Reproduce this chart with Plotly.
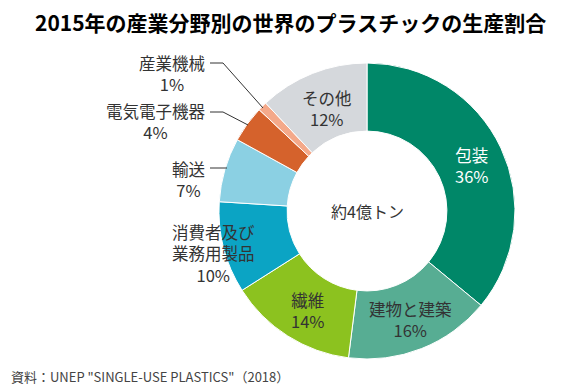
import math
import plotly.graph_objects as go

labels = ["包装", "建物と建築", "繊維", "消費者及び<br>業務用製品", "輸送", "電気電子機器", "産業機械", "その他"]
values = [36, 16, 14, 10, 7, 4, 1, 12]
colors = ["#008768", "#57ad93", "#8cc21f", "#0ba4c4", "#8bd0e3", "#d5622c", "#f4a98a", "#d5d8dc"]
inside_text_colors = {"包装": "#ffffff"}
title = "2015年の産業分野別の世界のプラスチックの生産割合"
center_text = "約4億トン"
source = "資料：UNEP \"SINGLE-USE PLASTICS\"（2018）"

W, H = 580, 392
CX, CY, R = 367, 211, 148
HOLE = 0.54

def px(x):
    return x / W

def py(y):
    return 1 - y / H

fig = go.Figure(go.Pie(
    labels=labels, values=values, sort=False, direction="clockwise", rotation=0,
    hole=HOLE, marker=dict(colors=colors, line=dict(color="#ffffff", width=1)),
    textinfo="none", hoverinfo="label+percent", showlegend=False,
    domain=dict(x=[px(CX - R), px(CX + R)], y=[py(CY + R), py(CY - R)]),
))

font = "Noto Sans CJK JP"
ann = []
total = sum(values)
cum = 0
inside = {"包装", "建物と建築", "繊維", "その他"}
rmid = R * (1 + HOLE) / 2
for lab, v in zip(labels, values):
    mid = (cum + v / 2) / total * 2 * math.pi
    cum += v
    if lab in inside:
        x = CX + rmid * math.sin(mid)
        y = CY - rmid * math.cos(mid)
        ann.append(dict(x=px(x + 2), y=py(y + 3), xref="paper", yref="paper", showarrow=False,
                        text=f"{lab}<br>{v}%", xanchor="center", yanchor="middle",
                        font=dict(family=font, size=16.5, color=inside_text_colors.get(lab, "#333333"))))

outside_pos = {"産業機械": (172, 73), "電気電子機器": (156, 121), "輸送": (188, 179), "消費者及び<br>業務用製品": (213, 253)}
for lab, v in zip(labels, values):
    if lab in outside_pos:
        x, y = outside_pos[lab]
        ann.append(dict(x=px(x), y=py(y), xref="paper", yref="paper", showarrow=False,
                        text=f"{lab}<br>{v}%", xanchor="center", yanchor="middle",
                        font=dict(family=font, size=16.5, color="#333333")))

ann.append(dict(x=px(CX), y=py(CY), xref="paper", yref="paper", showarrow=False, text=center_text,
                xanchor="center", yanchor="middle", font=dict(family=font, size=16, color="#333333")))
ann.append(dict(x=px(290), y=py(22), xref="paper", yref="paper", showarrow=False, text="<b>" + title + "</b>",
                xanchor="center", yanchor="middle", font=dict(family=font, size=21, color="#000000")))
ann.append(dict(x=px(9), y=py(376), xref="paper", yref="paper", showarrow=False, text=source,
                xanchor="left", yanchor="middle", font=dict(family=font, size=13, color="#444444")))

lines = [[(210, 63), (223, 63), (263, 108)],
         [(210, 112), (223, 112), (248, 125)],
         [(210, 168), (227, 168)]]
shapes = []
for pts in lines:
    path = "M " + " L ".join(f"{px(a)},{py(b)}" for a, b in pts)
    shapes.append(dict(type="path", path=path, xref="paper", yref="paper",
                       line=dict(color="#333333", width=1)))

fig.update_layout(width=W, height=H, margin=dict(l=0, r=0, t=0, b=0),
                  paper_bgcolor="#ffffff", plot_bgcolor="#ffffff",
                  annotations=ann, shapes=shapes)
fig.write_html("out.html", config={"displayModeBar": False},
               post_script="document.body.style.margin='0';document.body.style.overflow='hidden';")
